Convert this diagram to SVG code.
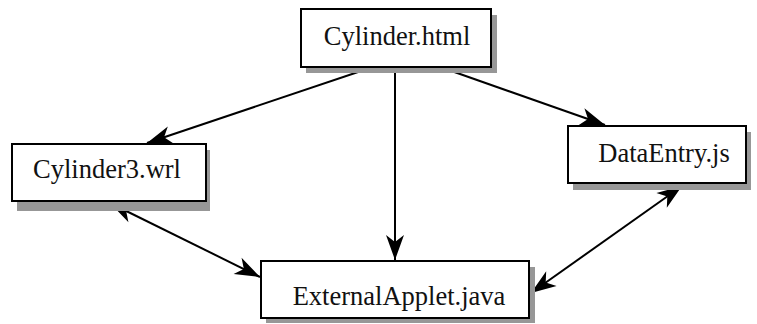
<svg xmlns="http://www.w3.org/2000/svg" width="757" height="324" viewBox="0 0 757 324">
<defs>
<style>
.box{fill:#fff;stroke:#000;stroke-width:2}
.shadow{fill:#979797}
.lbl{font-family:"Liberation Serif","Times New Roman",serif;font-size:26.5px;fill:#111;text-anchor:middle}
.edge{stroke:#000;stroke-width:2;fill:none}
</style>
<marker id="ah" markerUnits="userSpaceOnUse" viewBox="-28 -12 30 24" refX="0" refY="0" markerWidth="30" markerHeight="24" orient="auto-start-reverse">
<path d="M0,0 L-25,-9 L-18,0 L-25,9 Z" fill="#000"/>
</marker>
</defs>
<g id="connectors">
<line class="edge" x1="370" y1="68" x2="147" y2="143" marker-end="url(#ah)"/>
<line class="edge" x1="443" y1="68" x2="605" y2="125" marker-end="url(#ah)"/>
<line class="edge" x1="395" y1="68" x2="395" y2="260" marker-end="url(#ah)"/>
<line class="edge" x1="110" y1="203" x2="260" y2="277" marker-start="url(#ah)" marker-end="url(#ah)"/>
<line class="edge" x1="682" y1="186" x2="531" y2="293" marker-start="url(#ah)" marker-end="url(#ah)"/>
</g>
<g id="cylinder_html">
<rect class="shadow" x="306" y="15" width="191" height="58"/>
<rect class="box" x="301" y="9" width="190" height="58"/>
<text class="lbl" x="397" y="45">Cylinder.html</text>
</g>
<g id="cylinder3_wrl">
<rect class="shadow" x="17" y="150" width="193" height="61"/>
<rect class="box" x="12" y="144" width="194" height="57"/>
<text class="lbl" x="107" y="178">Cylinder3.wrl</text>
</g>
<g id="dataentry_js">
<rect class="shadow" x="573" y="132" width="178" height="58"/>
<rect class="box" x="568" y="126" width="178" height="57"/>
<text class="lbl" x="664" y="162">DataEntry.js</text>
</g>
<g id="externalapplet_java">
<rect class="shadow" x="266" y="267" width="269" height="56"/>
<rect class="box" x="261" y="261" width="268" height="57"/>
<text class="lbl" x="399" y="305">ExternalApplet.java</text>
</g>
</svg>
